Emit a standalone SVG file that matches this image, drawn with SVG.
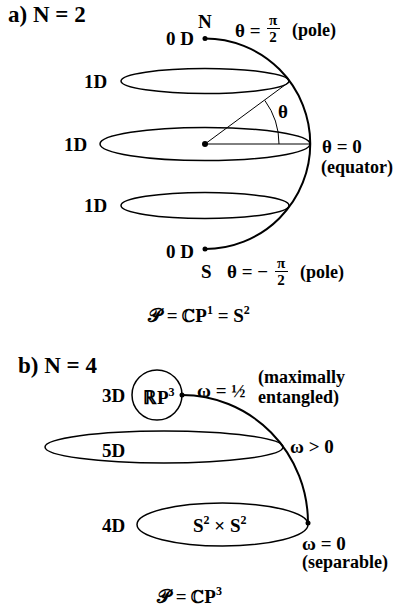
<svg xmlns="http://www.w3.org/2000/svg" width="394" height="612" viewBox="0 0 394 612">
<style>
text{font-family:"Liberation Serif","DejaVu Serif",serif;font-weight:bold;fill:#000}
.t{font-size:23px}
.l{font-size:19px}
.p{font-size:18px}
.f{font-size:15px}
.sup{font-size:12px}
.thick{fill:none;stroke:#000;stroke-width:2}
.ell{fill:none;stroke:#000;stroke-width:1.5}
.thin{fill:none;stroke:#000;stroke-width:1}
</style>
<rect width="394" height="612" fill="#fff"/>

<!-- Part a -->
<text class="t" x="8" y="22">a) N = 2</text>
<g id="a-ellipses">
<ellipse id="a-upper" class="ell" cx="205" cy="81" rx="84" ry="12.5"/>
<ellipse id="a-equator" class="ell" cx="205" cy="144" rx="105" ry="16.5"/>
<ellipse id="a-lower" class="ell" cx="205" cy="205.5" rx="84" ry="13"/>
</g>
<g id="connectors-a">
<path class="thick" d="M205,38.5 A105,105 0 0 1 205,249"/>
<line class="thin" x1="205" y1="144" x2="289" y2="82"/>
<line class="thin" x1="205" y1="144" x2="310" y2="144"/>
<path class="thin" d="M279,144 A74,74 0 0 0 264.8,100.4"/>
</g>
<g id="a-points">
<circle cx="205" cy="38.5" r="2.5"/>
<circle cx="205" cy="249" r="2.5"/>
<circle cx="205" cy="144" r="3"/>
</g>
<g id="a-labels">
<text class="l" x="198" y="28">N</text>
<text class="l" x="166" y="45">0 D</text>
<text class="l" x="84" y="88">1D</text>
<text class="l" x="64" y="151">1D</text>
<text class="l" x="84" y="212">1D</text>
<text class="l" x="166" y="258">0 D</text>
<text class="l" x="278" y="118">θ</text>
<text class="l" x="322" y="153">θ = 0</text>
<text class="p" x="321" y="173">(equator)</text>
<text class="l" x="235" y="37">θ =</text>
<text class="f" x="273" y="25" text-anchor="middle">π</text>
<line x1="267" y1="28.5" x2="280" y2="28.5" stroke="#000" stroke-width="1"/>
<text class="f" x="273" y="42" text-anchor="middle">2</text>
<text class="p" x="292" y="36">(pole)</text>
<text class="l" x="201" y="278">S</text>
<text class="l" x="227" y="278">θ = −</text>
<text class="f" x="281" y="268" text-anchor="middle">π</text>
<line x1="275" y1="271.5" x2="288" y2="271.5" stroke="#000" stroke-width="1"/>
<text class="f" x="281" y="285" text-anchor="middle">2</text>
<text class="p" x="300" y="278">(pole)</text>
<text class="l" x="148" y="322">𝒫 = ℂP<tspan class="sup" dy="-8">1</tspan><tspan dy="8"> = S</tspan><tspan class="sup" dy="-8">2</tspan></text>
</g>

<!-- Part b -->
<text class="t" x="18" y="373">b) N = 4</text>
<g id="b-sphere">
<circle class="ell" cx="157" cy="395" r="25"/>
<text class="l" x="143" y="404">ℝP<tspan class="sup" dy="-8">3</tspan></text>
</g>
<g id="b-5d">
<ellipse class="ell" cx="164" cy="447" rx="119" ry="16"/>
</g>
<g id="b-4d">
<ellipse class="ell" cx="222.5" cy="524.5" rx="85.5" ry="21.5"/>
<text class="l" x="193" y="532">S<tspan class="sup" dy="-8">2</tspan><tspan dy="8"> × S</tspan><tspan class="sup" dy="-8">2</tspan></text>
</g>
<g id="connectors-b">
<path class="thick" d="M182,395 A126,128 0 0 1 308,523"/>
</g>
<g id="b-points">
<circle cx="182" cy="395" r="2.5"/>
<circle cx="308" cy="523" r="2.5"/>
</g>
<g id="b-labels">
<text class="l" x="102" y="402">3D</text>
<text class="l" x="102" y="457">5D</text>
<text class="l" x="102" y="532">4D</text>
<text class="l" x="197" y="397">ω = ½</text>
<text class="p" x="258" y="383">(maximally</text>
<text class="p" x="258" y="403">entangled)</text>
<text class="l" x="290" y="453">ω &gt; 0</text>
<text class="l" x="302" y="550">ω = 0</text>
<text class="p" x="302" y="568">(separable)</text>
<text class="l" x="157" y="603">𝒫 = ℂP<tspan class="sup" dy="-8">3</tspan></text>
</g>
</svg>
